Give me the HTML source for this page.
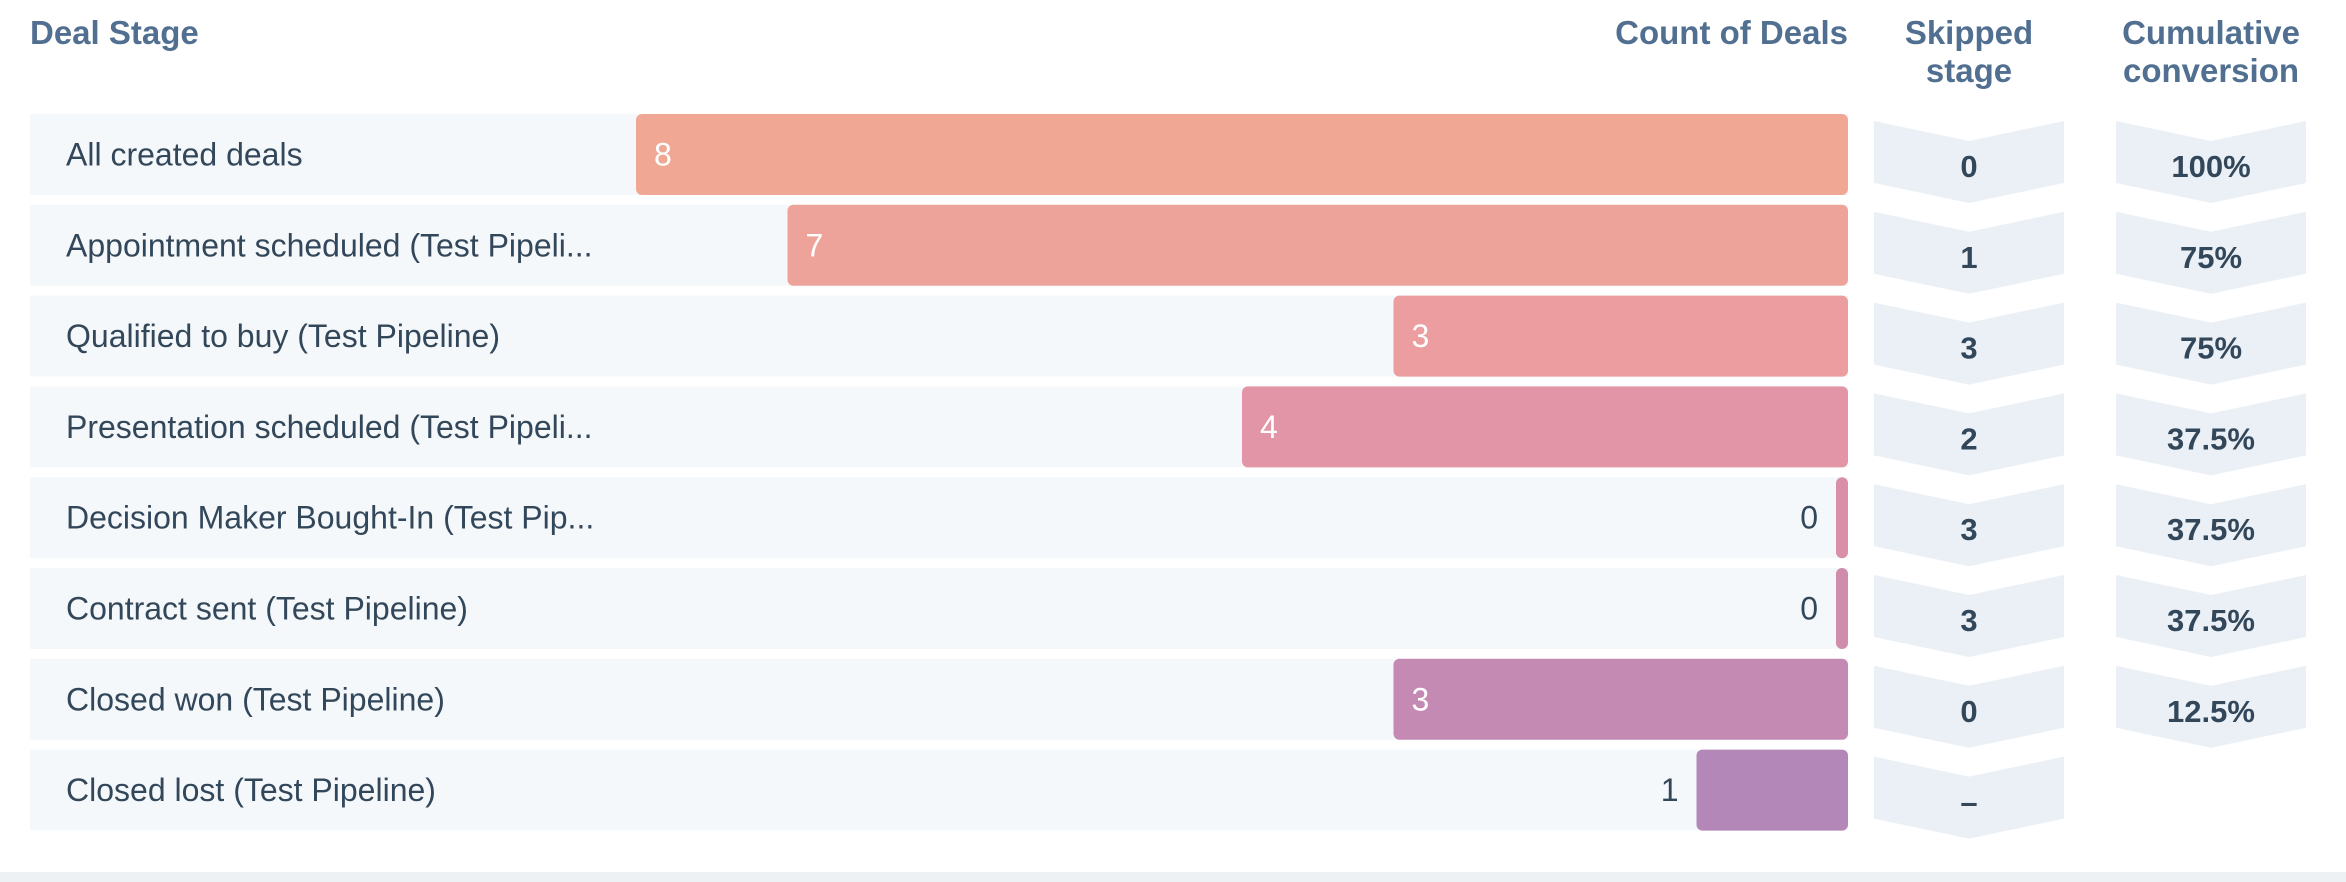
<!DOCTYPE html>
<html><head><meta charset="utf-8"><style>
html,body{margin:0;padding:0;background:#fff;width:2346px;height:882px;overflow:hidden}
svg{display:block;font-family:"Liberation Sans",sans-serif}
</style></head><body>
<svg id="chart" width="2346" height="882" viewBox="0 0 2346 882">
<g font-weight="bold" font-size="33" fill="#516f90">
<text x="30" y="44">Deal Stage</text>
<text x="1848" y="44" text-anchor="end">Count of Deals</text>
<text x="1969" y="44" text-anchor="middle">Skipped</text>
<text x="1969" y="82" text-anchor="middle">stage</text>
<text x="2211" y="44" text-anchor="middle">Cumulative</text>
<text x="2211" y="82" text-anchor="middle">conversion</text>
</g>
<g id="rows"></g>
<rect x="0" y="872" width="2346" height="10" fill="#eef1f4"/>
</svg>
<script>
const stages = ["All created deals","Appointment scheduled (Test Pipeli...","Qualified to buy (Test Pipeline)","Presentation scheduled (Test Pipeli...","Decision Maker Bought-In (Test Pip...","Contract sent (Test Pipeline)","Closed won (Test Pipeline)","Closed lost (Test Pipeline)"];
const counts = [8,7,3,4,0,0,3,1];
const skipped = ["0","1","3","2","3","3","0","–"];
const conversion = ["100%","75%","75%","37.5%","37.5%","37.5%","12.5%",""];
const colors = ["#f0a894","#eea39a","#eb9d9f","#e295a6","#d98fa8","#d08cab","#c48ab3","#b388b8"];

const NS="http://www.w3.org/2000/svg";
const g=document.getElementById('rows');
const rowTop=114, pitch=90.8, rowH=81, bandL=30, barRight=1848, barMaxW=1212, maxV=8;
const xScale=v=>v/maxV*barMaxW;
function mk(tag,attrs){const e=document.createElementNS(NS,tag);for(const k in attrs)e.setAttribute(k,attrs[k]);return e;}
function chevron(x1,x2,y,h){const m=(x1+x2)/2,n=20;return `M${x1},${y} L${m},${y+n} L${x2},${y} L${x2},${y+h} L${m},${y+h+n} L${x1},${y+h} Z`;}
stages.forEach((s,i)=>{
  const y=rowTop+i*pitch;
  const band=mk('rect',{x:bandL,y:y,width:barRight-bandL,height:rowH,fill:'#f5f8fa'});
  
  
  g.appendChild(band);
  const lbl=mk('text',{x:66,y:y+rowH/2+11,'font-size':'32',fill:'#33475b'});
  lbl.textContent=s;
  
  
  g.appendChild(lbl);
  const w=Math.max(xScale(counts[i]),12);
  const bar=mk('rect',{x:barRight-w,y:y,width:w,height:rowH,rx:6,fill:colors[i]});
  
  
  g.appendChild(bar);
  const inside=xScale(counts[i])>200;
  const val=mk('text',{x:inside?barRight-w+18:barRight-w-18,y:y+rowH/2+11,'font-size':'32',fill:inside?'#fff':'#33475b','text-anchor':inside?'start':'end'});
  val.textContent=counts[i];
  
  
  g.appendChild(val);
  const ch=mk('path',{d:chevron(1874,2064,y+7,62),fill:'#eaf0f6'});
  
  
  g.appendChild(ch);
  const sv=mk('text',{x:1969,y:y+63,'font-size':'31','font-weight':'bold',fill:'#33475b','text-anchor':'middle'});
  sv.textContent=skipped[i];
  
  
  g.appendChild(sv);
  if(conversion[i]!==""){
    const cc=mk('path',{d:chevron(2116,2306,y+7,62),fill:'#eaf0f6'});
    
    
    g.appendChild(cc);
    const cv=mk('text',{x:2211,y:y+63,'font-size':'31','font-weight':'bold',fill:'#33475b','text-anchor':'middle'});
    cv.textContent=conversion[i];
    
    
    g.appendChild(cv);
  }
});
</script>
</body></html>
